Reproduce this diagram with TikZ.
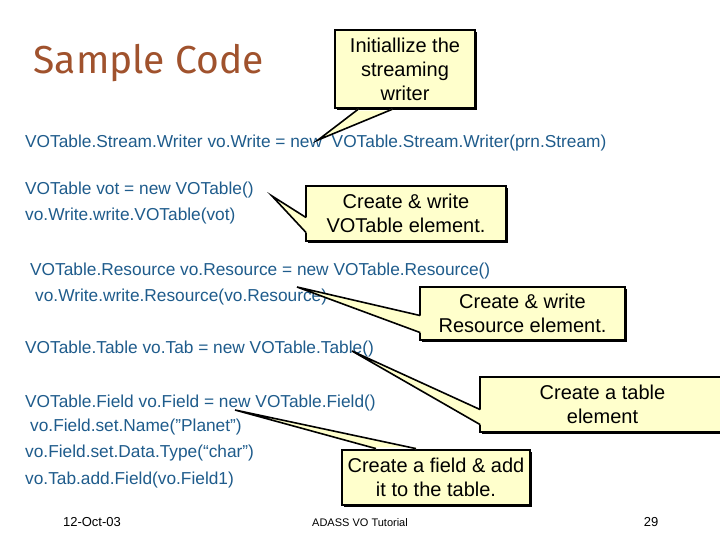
\documentclass[tikz,border=0pt]{standalone}
\usepackage{fontspec}
\setmainfont{Liberation Sans}
\newfontfamily\titlefont{Fira Sans}
\usetikzlibrary{shadows}
\definecolor{codeblue}{HTML}{1F5C8C}
\definecolor{callyel}{HTML}{FFFFCC}
\definecolor{titlebrown}{HTML}{A0522D}
\begin{document}
\begin{tikzpicture}[x=1pt,y=-1pt,
 code/.style={anchor=west,inner sep=0pt,text=codeblue,font=\fontsize{17.3}{20}\selectfont},
 callbox/.style={draw=black,line width=1.4pt,fill=callyel,align=center,font=\fontsize{20}{24}\selectfont,inner sep=0pt,
   drop shadow={shadow xshift=2pt,shadow yshift=-2pt,fill=black,opacity=1}},
 wedge/.style={fill=callyel},
 wedgeline/.style={line width=1.6pt,line join=miter}]
\useasboundingbox (0,0) rectangle (720,540);
\fill[white] (0,0) rectangle (720,540);
\node[anchor=west,text=titlebrown,font=\titlefont\fontsize{39}{42}\selectfont] (title) at (30,63) {Sample Code};
% code
\node[code] (c1) at (25,143) {VOTable.Stream.Writer vo.Write = new\ \ VOTable.Stream.Writer(prn.Stream)};
\node[code] (c2) at (25,190) {VOTable vot = new VOTable()};
\node[code] (c3) at (25,216) {vo.Write.write.VOTable(vot)};
\node[code] (c4) at (30,271) {VOTable.Resource vo.Resource = new VOTable.Resource()};
\node[code] (c5) at (35,297) {vo.Write.write.Resource(vo.Resource)};
\node[code] (c6) at (25,349) {VOTable.Table vo.Tab = new VOTable.Table()};
\node[code] (c7) at (25,403) {VOTable.Field vo.Field = new VOTable.Field()};
\node[code] (c8) at (30,427) {vo.Field.set.Name("Planet")};
\node[code] (c9) at (25,453) {vo.Field.set.Data.Type(“char”)};
\node[code] (c10) at (25,480) {vo.Tab.add.Field(vo.Field1)};
% callouts
\node[callbox,minimum width=140,minimum height=78] (b1) at (405,69) {Initiallize the\\streaming\\writer};
\node[callbox,minimum width=200,minimum height=55] (b2) at (406,213.5) {Create \& write\\VOTable element.};
\node[callbox,minimum width=205,minimum height=53] (b3) at (522.5,313.5) {Create \& write\\Resource element.};
\node[callbox,minimum width=245,minimum height=55] (b4) at (602.5,404.5) {Create a table\\element};
\node[callbox,minimum width=188,minimum height=55] (b5) at (436,477.5) {Create a field \& add\\it to the table.};
\coordinate (t1) at (318,140);
\coordinate (t2) at (272,196);
\coordinate (t3) at (297,287);
\coordinate (t4) at (352,351);
\coordinate (t5) at (235,410);
% wedges
\fill[wedge] ([xshift=-47]b1.south) -- (t1) -- ([xshift=-13]b1.south) -- ([xshift=-13,yshift=-2]b1.south) -- ([xshift=-47,yshift=-2]b1.south) -- cycle;
\draw[wedgeline] ([xshift=-47,yshift=-0.7]b1.south) -- (t1) -- ([xshift=-13,yshift=-0.7]b1.south);
\fill[wedge] ([yshift=-19]b2.west) -- (t2) -- ([yshift=-4]b2.west) -- ([xshift=2,yshift=-4]b2.west) -- ([xshift=2,yshift=-19]b2.west) -- cycle;
\draw[wedgeline] ([xshift=0.7,yshift=-19]b2.west) -- (t2) -- ([xshift=0.7,yshift=-4]b2.west);
\fill[wedge] ([yshift=-19]b3.west) -- (t3) -- ([yshift=-2]b3.west) -- ([xshift=2,yshift=-2]b3.west) -- ([xshift=2,yshift=-19]b3.west) -- cycle;
\draw[wedgeline] ([xshift=0.7,yshift=-19]b3.west) -- (t3) -- ([xshift=0.7,yshift=-2]b3.west);
\fill[wedge] ([yshift=-20]b4.west) -- (t4) -- ([yshift=-5]b4.west) -- ([xshift=2,yshift=-5]b4.west) -- ([xshift=2,yshift=-20]b4.west) -- cycle;
\draw[wedgeline] ([xshift=0.7,yshift=-20]b4.west) -- (t4) -- ([xshift=0.7,yshift=-5]b4.west);
\fill[wedge] ([xshift=-60]b5.north) -- (t5) -- ([xshift=-20]b5.north) -- ([xshift=-20,yshift=2]b5.north) -- ([xshift=-60,yshift=2]b5.north) -- cycle;
\draw[wedgeline] ([xshift=-60,yshift=0.7]b5.north) -- (t5) -- ([xshift=-20,yshift=0.7]b5.north);
% footer
\node[font=\fontsize{13}{15}\selectfont] (f1) at (92,522) {12-Oct-03};
\node[font=\fontsize{11}{13}\selectfont] (f2) at (360,523) {ADASS VO Tutorial};
\node[font=\fontsize{13}{15}\selectfont] (f3) at (651,522) {29};
\end{tikzpicture}
\end{document}
